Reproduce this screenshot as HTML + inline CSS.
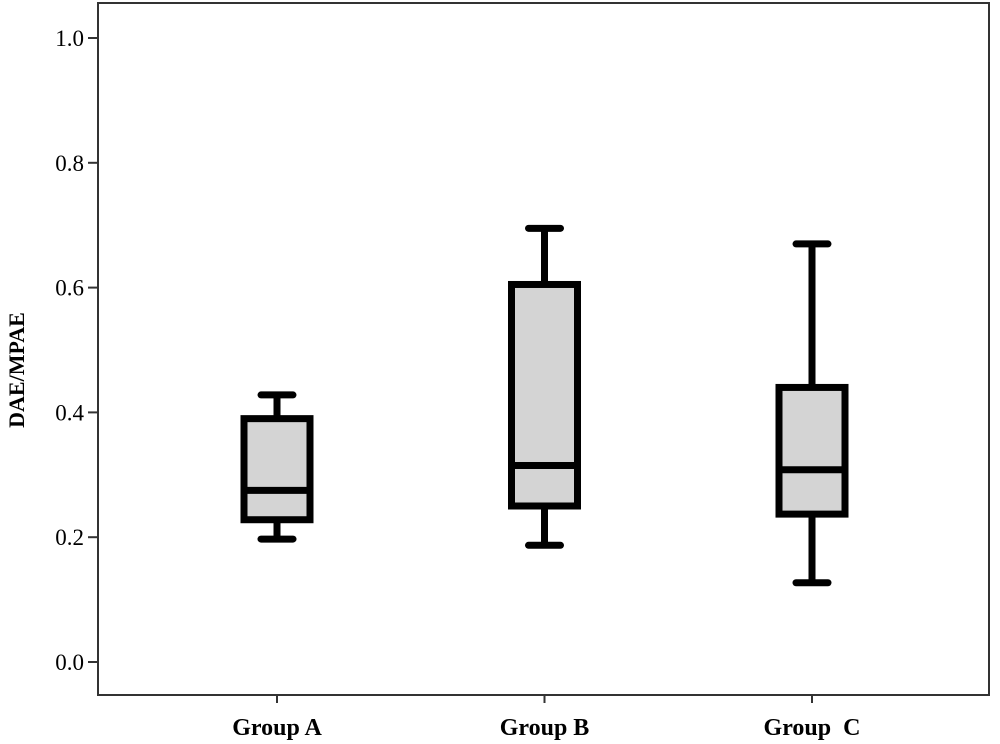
<!DOCTYPE html>
<html><head><meta charset="utf-8"><style>
body{margin:0;background:#fff;}
svg{display:block;}
text{font-family:"Liberation Serif","DejaVu Serif",serif;fill:#000;}
</style></head><body>
<svg id="chart" width="1000" height="744">
<rect x="98" y="3" width="891" height="692" fill="none" stroke="#333" stroke-width="2"/>
<g id="yaxis"></g>
<g id="xaxis"></g>
<g id="boxes"></g>
<text x="24" y="370" transform="rotate(-90 24 370)" text-anchor="middle" font-size="22" font-weight="bold" style="font-family:'Liberation Sans Narrow','Liberation Serif',serif">DAE/MPAE</text>
</svg>
<script>
const categories = ["Group A", "Group B", "Group  C"];
const maxVals = [0.428, 0.695, 0.670];
const q3Vals = [0.390, 0.605, 0.440];
const medianVals = [0.275, 0.315, 0.308];
const q1Vals = [0.228, 0.250, 0.237];
const minVals = [0.197, 0.187, 0.127];
const yTicks = [0.0, 0.2, 0.4, 0.6, 0.8, 1.0];
const yTickLabels = ["0.0", "0.2", "0.4", "0.6", "0.8", "1.0"];

const NS = "http://www.w3.org/2000/svg";
const y = v => 662 - v * 624;
const x = i => 277 + i * 267.5;
function mk(tag, attrs, parent) {
  const e = document.createElementNS(NS, tag);
  for (const k in attrs) e.setAttribute(k, attrs[k]);
  parent.appendChild(e);
  return e;
}
const ya = document.getElementById("yaxis");
yTicks.forEach((t, i) => {
  const l = mk("line", {x1: 88, x2: 98, y1: y(t), y2: y(t), stroke: "#333", "stroke-width": 2}, ya);
  
  
  const tx = mk("text", {x: 84, y: y(t) + 8, "text-anchor": "end", "font-size": 23}, ya);
  tx.textContent = yTickLabels[i];
  
  
});
const xa = document.getElementById("xaxis");
categories.forEach((c, i) => {
  const l = mk("line", {x1: x(i), x2: x(i), y1: 695, y2: 703, stroke: "#333", "stroke-width": 2}, xa);
  
  
  const tx = mk("text", {x: x(i), y: 735, "text-anchor": "middle", "font-size": 24, "font-weight": "bold"}, xa);
  tx.setAttribute("xml:space", "preserve");
  tx.style.whiteSpace = "pre";
  tx.textContent = c;
  
  
});
const bx = document.getElementById("boxes");
categories.forEach((c, i) => {
  const g = mk("g", {}, bx);
  
  
  const cx = x(i), hw = 33, cw = 16;
  const st = {stroke: "#000", "stroke-width": 7};
  const w1 = mk("line", Object.assign({x1: cx, x2: cx, y1: y(maxVals[i]), y2: y(q3Vals[i])}, st), g);
  
  
  const w2 = mk("line", Object.assign({x1: cx, x2: cx, y1: y(q1Vals[i]), y2: y(minVals[i])}, st), g);
  
  
  const c1 = mk("line", Object.assign({x1: cx - cw, x2: cx + cw, y1: y(maxVals[i]), y2: y(maxVals[i]), "stroke-linecap": "round"}, st), g);
  
  
  const c2 = mk("line", Object.assign({x1: cx - cw, x2: cx + cw, y1: y(minVals[i]), y2: y(minVals[i]), "stroke-linecap": "round"}, st), g);
  
  
  const r = mk("rect", Object.assign({x: cx - hw, y: y(q3Vals[i]), width: 2 * hw, height: y(q1Vals[i]) - y(q3Vals[i]), fill: "#d4d4d4"}, st), g);
  
  
  const m = mk("line", Object.assign({x1: cx - hw, x2: cx + hw, y1: y(medianVals[i]), y2: y(medianVals[i])}, st), g);
  
  
});
</script>
</body></html>
